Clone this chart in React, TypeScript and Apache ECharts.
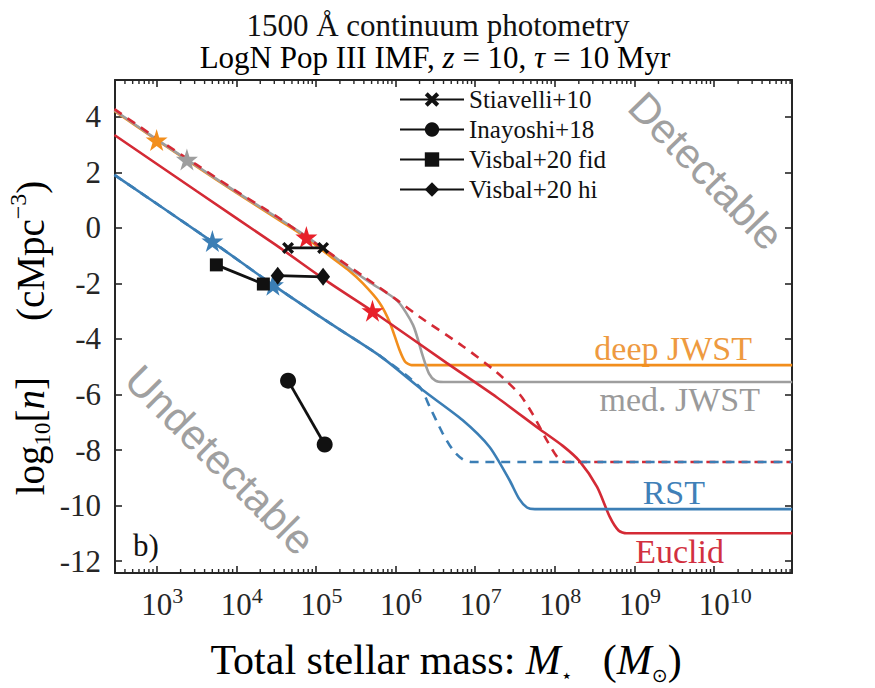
import { useEffect, useRef } from 'react';
import * as echarts from 'echarts';

// ---- data: x = log10(M* / Msun), y = log10(n / cMpc^-3) ----
const deepJwstLogM = [2.47, 3.0, 3.5, 4.0, 4.5, 4.8, 5.17, 5.4, 5.59, 5.8, 5.93, 6.05, 6.12, 6.2, 6.3, 10.98];
const deepJwstLogN = [4.22, 3.17, 2.22, 1.27, 0.35, -0.2, -1.0, -1.5, -2.0, -2.7, -3.42, -4.4, -4.82, -4.94, -4.94, -4.94];

const medJwstLogM = [2.47, 3.0, 3.5, 4.0, 4.5, 4.8, 5.17, 5.42, 5.7, 6.02, 6.22, 6.34, 6.42, 6.5, 6.6, 6.7, 10.98];
const medJwstLogN = [4.24, 3.19, 2.24, 1.3, 0.4, -0.15, -0.9, -1.45, -2.0, -2.62, -3.5, -4.6, -5.25, -5.5, -5.55, -5.55, -5.55];

const euclidLogM = [2.47, 3.5, 4.5, 5.17, 5.71, 6.64, 7.27, 7.81, 8.1, 8.31, 8.53, 8.69, 8.8, 8.9, 9.0, 10.98];
const euclidLogN = [3.35, 1.33, -0.62, -1.98, -3.0, -4.86, -6.1, -7.25, -7.85, -8.4, -9.33, -10.41, -10.9, -11.0, -11.0, -11.0];

const euclidDashLogM = [2.47, 3.0, 3.5, 4.0, 4.5, 4.88, 5.17, 5.6, 6.02, 6.3, 6.84, 7.27, 7.56, 7.72, 7.9, 8.03, 8.12, 8.2, 10.98];
const euclidDashLogN = [4.28, 3.23, 2.28, 1.33, 0.43, -0.33, -0.9, -1.75, -2.6, -3.2, -4.25, -5.2, -6.0, -6.7, -7.65, -8.25, -8.43, -8.43, -8.43];

const rstLogM = [2.47, 3.7, 4.46, 5.17, 5.8, 6.34, 6.84, 7.18, 7.43, 7.55, 7.65, 7.75, 7.85, 10.98];
const rstLogN = [1.91, -0.5, -2.05, -3.42, -4.6, -5.84, -6.92, -7.89, -9.08, -9.75, -10.07, -10.13, -10.13, -10.13];

const rstDashLogM = [2.47, 3.7, 4.46, 5.17, 5.8, 6.3, 6.43, 6.59, 6.72, 6.84, 6.95, 7.05, 10.98];
const rstDashLogN = [1.91, -0.5, -2.05, -3.42, -4.6, -5.72, -6.45, -7.39, -8.0, -8.33, -8.43, -8.43, -8.43];

// stars on the curves
const deepJwstStarLogM = [3.0];
const deepJwstStarLogN = [3.17];
const medJwstStarLogM = [3.38];
const medJwstStarLogN = [2.47];
const euclidStarLogM = [4.88, 5.71];
const euclidStarLogN = [-0.33, -2.98];
const rstStarLogM = [3.7, 4.46];
const rstStarLogN = [-0.47, -2.05];

// literature predictions
const stiavelliLogM = [4.65, 5.09];
const stiavelliLogN = [-0.72, -0.72];
const inayoshiLogM = [4.65, 5.11];
const inayoshiLogN = [-5.5, -7.8];
const visbalFidLogM = [3.75, 4.34];
const visbalFidLogN = [-1.33, -2.02];
const visbalHiLogM = [4.52, 5.09];
const visbalHiLogN = [-1.72, -1.76];

const legendNames = ['Stiavelli+10', 'Inayoshi+18', 'Visbal+20 fid', 'Visbal+20 hi'];
const xTickExponents = [3, 4, 5, 6, 7, 8, 9, 10];
const yTickLabels = [4, 2, 0, -2, -4, -6, -8, -10, -12];

const X_MIN = 300;
const X_MAX = 9.5e10;
const Y_MIN = -12.43;
const Y_MAX = 5.33;

const SERIF = 'Liberation Serif';
const SANS = 'Liberation Sans';
const SYMB = 'DejaVu Sans';
const INK = '#262626';

const ORANGE = '#F28E1C';
const GRAY = '#9E9E9E';
const RED = '#D42A35';
const BLUE = '#3B7EB5';

const STAR = 'path://M50,0 L61,35 L98,35 L68,57 L79,91 L50,70 L21,91 L32,57 L2,35 L39,35 Z';
const XMARK = 'path://M2,0 L5,3 L8,0 L10,2 L7,5 L10,8 L8,10 L5,7 L2,10 L0,8 L3,5 L0,2 Z';

function pts(lx: number[], ly: number[]) {
  return lx.map((x, i) => [Math.pow(10, x), ly[i]]);
}

function curve(name: string, lx: number[], ly: number[], color: string, dashed: boolean) {
  return {
    name,
    type: 'line',
    data: pts(lx, ly),
    showSymbol: false,
    symbol: 'none',
    smooth: 0.25,
    lineStyle: { color, width: 2.6, type: dashed ? [9, 7] : 'solid' },
    z: dashed ? 4 : 3,
    silent: true,
  };
}

function stars(name: string, lx: number[], ly: number[], color: string) {
  return {
    name,
    type: 'scatter',
    data: pts(lx, ly),
    symbol: STAR,
    symbolSize: 22,
    itemStyle: { color, opacity: 1 },
    z: 6,
    silent: true,
  };
}

function lit(name: string, lx: number[], ly: number[], symbol: string, size: any) {
  return {
    name,
    type: 'line',
    data: pts(lx, ly),
    symbol,
    symbolSize: size,
    showSymbol: true,
    lineStyle: { color: '#111', width: 2.8 },
    itemStyle: { color: '#111' },
    z: 7,
    silent: true,
  };
}

export default function App() {
  const ref = useRef<HTMLDivElement>(null);
  useEffect(() => {
    document.body.style.margin = '0';
    const chart = echarts.init(ref.current!, null, { renderer: 'svg' });

    const minorTicks: number[][] = [];
    for (let e = 2; e <= 10; e++) {
      for (let k = 2; k <= 9; k++) {
        const v = k * Math.pow(10, e);
        if (v > X_MIN && v < X_MAX) minorTicks.push([v, 0]);
      }
    }

    const tickText = (v: number) => {
      const e = Math.log10(v);
      const r = Math.round(e);
      if (Math.abs(e - r) > 1e-6 || xTickExponents.indexOf(r) < 0) return '';
      const pad = String(r).length === 1 ? 'p1' : 'p2';
      return `{${pad}| }{b|10}{s|${r}}`;
    };

    const lbl = (text: string, x: number, y: number, fill: string, align = 'right', size = 34) => ({
      type: 'text',
      x,
      y,
      silent: true,
      style: { text, fill, fontFamily: SERIF, fontSize: size, align, verticalAlign: 'middle' },
    });

    const richX = {
      b: { fontSize: 42, fontFamily: SERIF, lineHeight: 48, color: INK },
      i: { fontSize: 42, fontFamily: SERIF, fontStyle: 'italic', lineHeight: 48, color: INK },
      sub: { fontSize: 19, fontFamily: SYMB, lineHeight: 18, verticalAlign: 'bottom', color: INK },
      gap: { width: 30, lineHeight: 48 },
    };
    const richY = {
      b: { fontSize: 39, fontFamily: SERIF, lineHeight: 48, color: INK },
      i: { fontSize: 39, fontFamily: SERIF, fontStyle: 'italic', lineHeight: 48, color: INK },
      subs: { fontSize: 23, fontFamily: SERIF, lineHeight: 18, verticalAlign: 'bottom', color: INK },
      sup: { fontSize: 24, fontFamily: SERIF, lineHeight: 14, verticalAlign: 'top', color: INK },
      gap: { width: 56, lineHeight: 48 },
    };

    const option: any = {
      animation: false,
      textStyle: { fontFamily: SERIF },
      grid: { left: 115, right: 83, top: 80, bottom: 115, containLabel: false },
      legend: {
        data: legendNames,
        orient: 'vertical',
        left: 394,
        top: 82,
        itemWidth: 64,
        itemHeight: 18,
        itemGap: 5,
        selectedMode: false,
        textStyle: { fontFamily: SERIF, fontSize: 25, color: '#111' },
      },
      xAxis: [
        {
          type: 'log',
          logBase: 10,
          min: X_MIN,
          max: X_MAX,
          position: 'bottom',
          axisLine: { show: true, onZero: false, lineStyle: { color: INK, width: 2 } },
          axisTick: { show: true, inside: true, length: 7, lineStyle: { color: INK, width: 1.6 } },
          splitLine: { show: false },
          axisLabel: {
            show: true,
            margin: 11,
            showMinLabel: false,
            showMaxLabel: false,
            fontFamily: SERIF,
            formatter: tickText,
            rich: {
              p1: { width: 11, fontSize: 22, fontFamily: SERIF },
              p2: { width: 22, fontSize: 22, fontFamily: SERIF },
              b: { fontSize: 31, fontFamily: SERIF, color: INK, lineHeight: 40 },
              s: { fontSize: 22, fontFamily: SERIF, color: INK, lineHeight: 12, verticalAlign: 'top' },
            },
          },
        },
        {
          type: 'log',
          logBase: 10,
          min: X_MIN,
          max: X_MAX,
          position: 'top',
          axisLine: { show: true, onZero: false, lineStyle: { color: INK, width: 2 } },
          axisTick: { show: true, inside: true, length: 7, lineStyle: { color: INK, width: 1.6 } },
          splitLine: { show: false },
          axisLabel: { show: false },
        },
      ],
      yAxis: [
        {
          type: 'value',
          min: Y_MIN,
          max: Y_MAX,
          splitNumber: 9,
          position: 'left',
          axisLine: { show: true, onZero: false, lineStyle: { color: INK, width: 2 } },
          axisTick: { show: true, inside: true, length: 7, lineStyle: { color: INK, width: 1.6 } },
          splitLine: { show: false },
          axisLabel: {
            margin: 14,
            showMinLabel: false,
            showMaxLabel: false,
            fontFamily: SERIF,
            fontSize: 31,
            color: INK,
            formatter: (v: number) => (yTickLabels.indexOf(Math.round(v * 1000) / 1000) >= 0 ? String(v) : ''),
          },
        },
        {
          type: 'value',
          min: Y_MIN,
          max: Y_MAX,
          splitNumber: 9,
          position: 'right',
          axisLine: { show: true, onZero: false, lineStyle: { color: INK, width: 2 } },
          axisTick: { show: true, inside: true, length: 7, lineStyle: { color: INK, width: 1.6 } },
          splitLine: { show: false },
          axisLabel: { show: false },
        },
      ],
      series: [
        {
          type: 'custom',
          name: 'minor',
          data: minorTicks,
          silent: true,
          z: 10,
          renderItem: (_p: any, api: any) => {
            const v = api.value(0);
            const b = api.coord([v, Y_MIN]);
            const t = api.coord([v, Y_MAX]);
            const st = { stroke: INK, lineWidth: 1.4 };
            return {
              type: 'group',
              children: [
                { type: 'line', shape: { x1: b[0], y1: b[1], x2: b[0], y2: b[1] - 4 }, style: st },
                { type: 'line', shape: { x1: t[0], y1: t[1], x2: t[0], y2: t[1] + 4 }, style: st },
              ],
            };
          },
        },
        curve('deep JWST', deepJwstLogM, deepJwstLogN, ORANGE, false),
        curve('med. JWST', medJwstLogM, medJwstLogN, GRAY, false),
        curve('Euclid', euclidLogM, euclidLogN, RED, false),
        curve('RST', rstLogM, rstLogN, BLUE, false),
        curve('Euclid lim', euclidDashLogM, euclidDashLogN, RED, true),
        curve('RST lim', rstDashLogM, rstDashLogN, BLUE, true),
        stars('deep star', deepJwstStarLogM, deepJwstStarLogN, ORANGE),
        stars('med star', medJwstStarLogM, medJwstStarLogN, GRAY),
        stars('euclid star', euclidStarLogM, euclidStarLogN, '#E8202A'),
        stars('rst star', rstStarLogM, rstStarLogN, BLUE),
        lit('Stiavelli+10', stiavelliLogM, stiavelliLogN, XMARK, 12),
        lit('Inayoshi+18', inayoshiLogM, inayoshiLogN, 'circle', 16),
        lit('Visbal+20 fid', visbalFidLogM, visbalFidLogN, 'rect', 13),
        lit('Visbal+20 hi', visbalHiLogM, visbalHiLogN, 'diamond', [14, 18]),
      ],
      graphic: [
        {
          type: 'text',
          x: 438,
          y: 25,
          silent: true,
          style: { text: '1500 Å continuum photometry', fontFamily: SERIF, fontSize: 31, lineHeight: 30, fill: '#111', align: 'center', verticalAlign: 'middle' },
        },
        {
          type: 'text',
          x: 435,
          y: 57,
          silent: true,
          style: {
            text: '{b|LogN Pop III IMF, }{i|z}{b| = 10, }{i|τ}{b| = 10 Myr}',
            align: 'center',
            verticalAlign: 'middle',
            rich: {
              b: { fontSize: 31, fontFamily: SERIF, color: '#111', lineHeight: 30 },
              i: { fontSize: 31, fontFamily: SERIF, fontStyle: 'italic', color: '#111', lineHeight: 30 },
            },
          },
        },
        {
          type: 'text',
          x: 446,
          y: 660,
          silent: true,
          style: {
            text: '{b|Total stellar mass: }{i|M}{sub|⋆}{gap| }{b|(}{i|M}{sub|⊙}{b|)}',
            align: 'center',
            verticalAlign: 'middle',
            rich: richX,
          },
        },
        {
          type: 'text',
          x: 30,
          y: 338,
          rotation: Math.PI / 2,
          silent: true,
          style: {
            text: '{b|log}{subs|10}{b|[}{i|n}{b|]}{gap| }{b|(cMpc}{sup|−3}{b|)}',
            align: 'center',
            verticalAlign: 'middle',
            rich: richY,
          },
        },
        lbl('deep JWST', 752, 348, '#EE9A40'),
        lbl('med. JWST', 760, 399, '#9A9A9A'),
        lbl('RST', 705, 492, '#4080B8'),
        lbl('Euclid', 724, 551, '#D23040'),
        lbl('b)', 133, 545, '#111', 'left', 31),
        {
          type: 'text',
          x: 706,
          y: 171,
          rotation: -0.8,
          silent: true,
          style: { text: 'Detectable', fontFamily: SANS, fontSize: 42, fill: '#A0A0A0', align: 'center', verticalAlign: 'middle' },
        },
        {
          type: 'text',
          x: 220,
          y: 460,
          rotation: -Math.PI / 4,
          silent: true,
          style: { text: 'Undetectable', fontFamily: SANS, fontSize: 42, fill: '#A0A0A0', align: 'center', verticalAlign: 'middle' },
        },
      ],
    };

    chart.setOption(option);
    return () => chart.dispose();
  }, []);

  return <div ref={ref} style={{ width: 875, height: 688 }} />;
}
